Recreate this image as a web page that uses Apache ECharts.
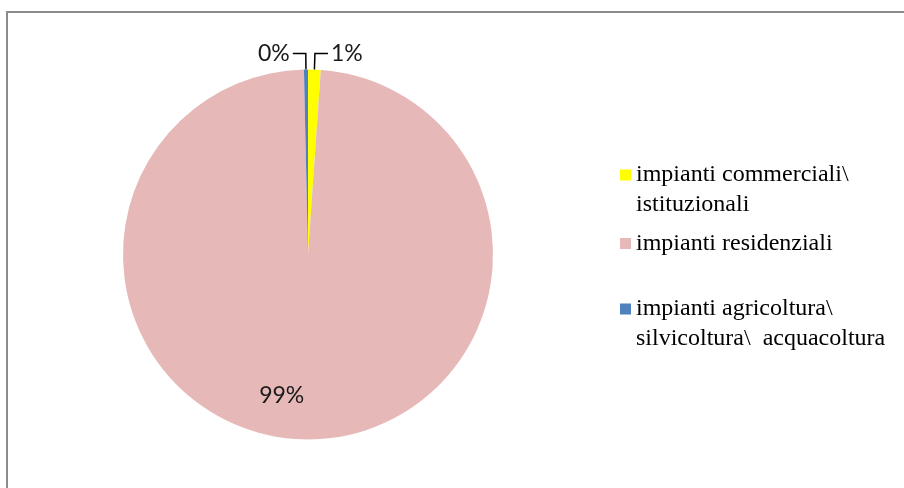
<!DOCTYPE html>
<html>
<head>
<meta charset="utf-8">
<script src="https://cdn.jsdelivr.net/npm/echarts@6/dist/echarts.min.js"></script>
<style>
  html, body { margin: 0; padding: 0; background: #fff; }
  #chart { width: 904px; height: 488px; }
</style>
</head>
<body>
<div id="chart"></div>
<script>
// Categories shown in the legend
const categories = [
  'impianti commerciali\\\nistituzionali',
  'impianti residenziali',
  'impianti agricoltura\\\nsilvicoltura\\  acquacoltura'
];
// Share of each category (%)
const shares = [1.1, 98.55, 0.35];
const colors = ['#FFFF00', '#E6B9B8', '#4F81BD'];

// Two-line names get a blank first line so the legend icon sits level with the first text line
const legendNames = categories.map(c => c.indexOf('\n') >= 0 ? '\n' + c : c);
const legendTops = [130, 228.5, 264];

const chart = echarts.init(document.getElementById('chart'), null, { renderer: 'canvas' });

const labelFont = 'Lato, "Open Sans", sans-serif';
const legendFont = '"Liberation Serif", "Times New Roman", serif';

chart.setOption({
  backgroundColor: '#fff',
  animation: false,
  graphic: [{
    type: 'rect',
    shape: { x: 7, y: 12, width: 1200, height: 800 },
    style: { fill: 'none', stroke: '#8c8c8c', lineWidth: 2 },
    silent: true
  }],
  legend: legendNames.map((name, i) => ({
    orient: 'vertical',
    left: 620,
    top: legendTops[i],
    padding: 0,
    itemWidth: 11,
    itemHeight: 11,
    icon: 'rect',
    selectedMode: false,
    data: [name],
    textStyle: {
      fontFamily: legendFont,
      fontSize: 24,
      lineHeight: 30,
      color: '#000'
    }
  })),
  series: [{
    type: 'pie',
    center: [308, 254.5],
    radius: 185,
    startAngle: 90,
    clockwise: true,
    avoidLabelOverlap: false,
    emphasis: { disabled: true },
    label: {
      show: true,
      position: 'outside',
      formatter: p => Math.round(p.value) + '%',
      fontFamily: labelFont,
      fontSize: 23,
      color: '#1a1a1a',
      distanceToLabelLine: 3
    },
    labelLine: {
      show: true,
      length: 16,
      length2: 13,
      lineStyle: { color: '#000', width: 1.5 }
    },
    labelLayout: function (params) {
      if (params.dataIndex === 1) {
        return { dx: -24, dy: 46 };
      }
      return {};
    },
    data: shares.map((v, i) => {
      const item = {
        name: legendNames[i],
        value: v,
        itemStyle: { color: colors[i] }
      };
      if (i === 1) {
        item.label = { position: 'inside' };
        item.labelLine = { show: false };
      }
      return item;
    })
  }]
});
</script>
</body>
</html>
